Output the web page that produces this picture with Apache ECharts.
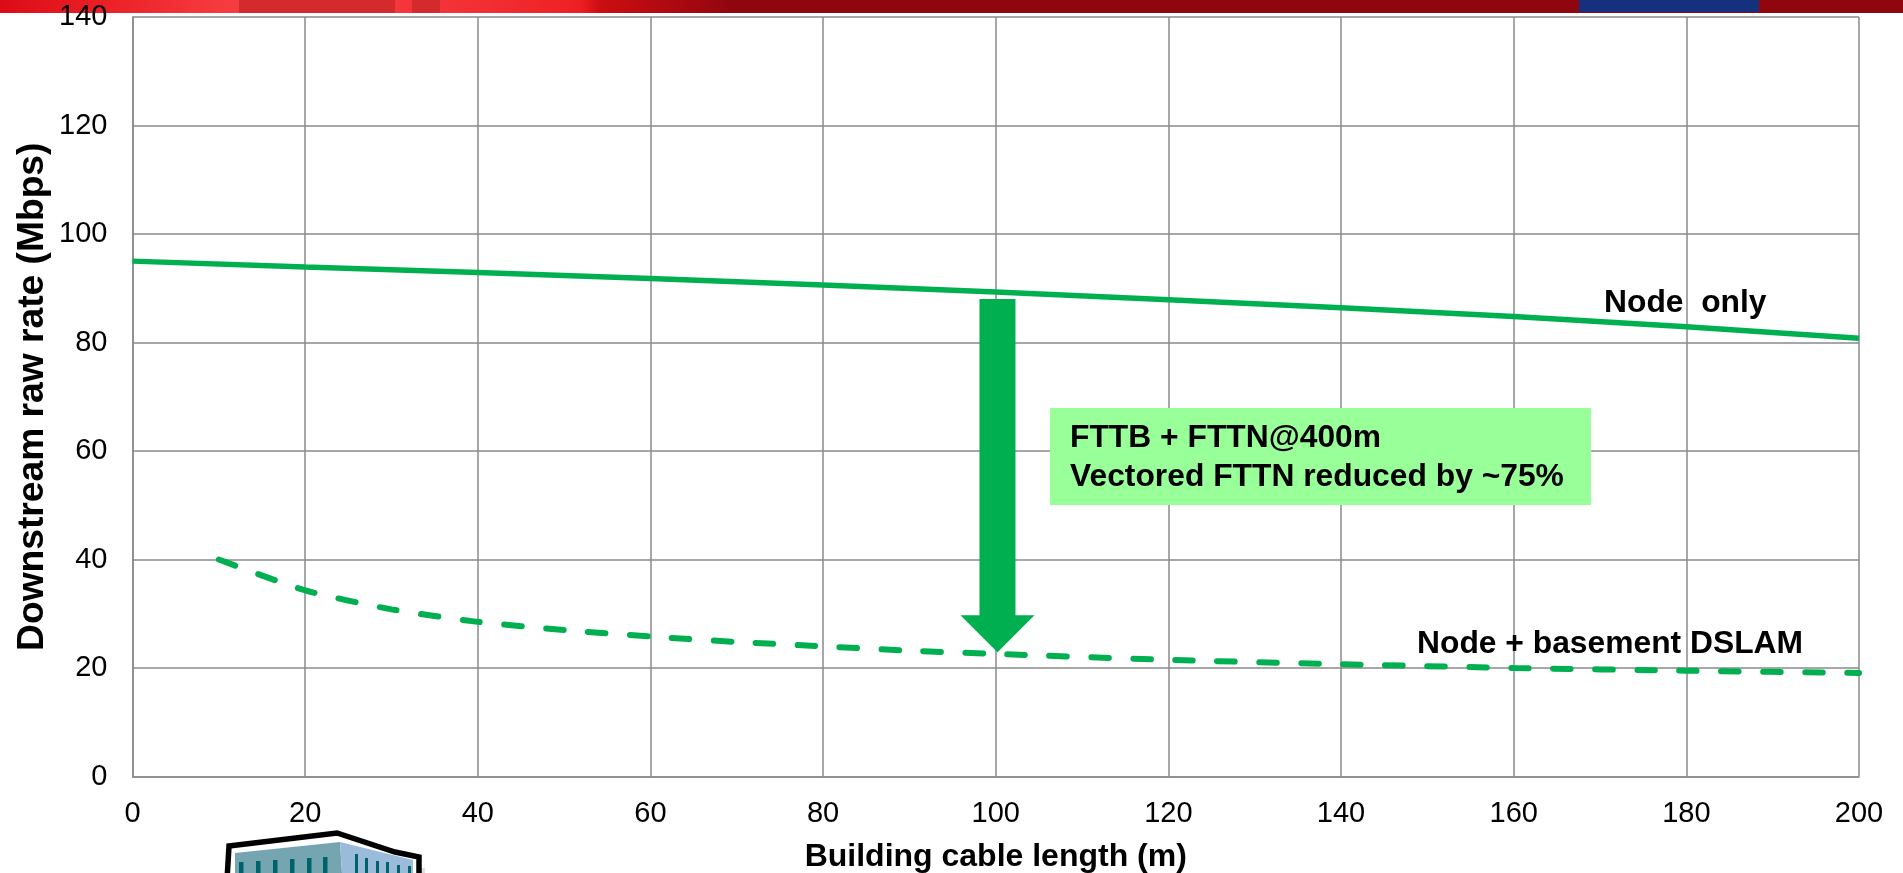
<!DOCTYPE html>
<html><head><meta charset="utf-8">
<style>html,body{margin:0;padding:0;background:#fff}#c{width:1903px;height:873px}</style>
<script src="https://cdn.jsdelivr.net/npm/echarts@6/dist/echarts.min.js"></script>
</head><body><div id="c"></div>
<script>
const nodeX = [0,20,40,60,80,100,120,140,160,180,200];
const nodeOnly = [95,93.9,92.9,91.8,90.6,89.3,87.9,86.4,84.8,82.9,80.8];
const baseX = [10,20,30,40,50,60,70,80,90,100,120,140,160,180,200];
const nodeBasement = [40,34.3,30.8,28.5,27,25.8,24.8,24,23.2,22.6,21.5,20.7,20,19.5,19.1];
const arrowX = [100.2];
const arrowFrom = [88];
const arrowTo = [22.9];
const GREEN = '#00B050', GRID = '#8a8a8a', FONT = '"Liberation Sans", Arial, sans-serif';
const chart = echarts.init(document.getElementById('c'), null, {renderer:'canvas'});
const txt = (x,y,t,size,extra) => ({type:'text',x,y,z:10,style:Object.assign({text:t,fill:'#000',font:'bold '+size+'px '+FONT,textVerticalAlign:'middle'},extra||{})});
const poly = (pts,fill,extra) => ({type:'polygon',z:1,shape:{points:pts},style:Object.assign({fill},extra||{})});
const win = [[239,862],[256,861],[273,860],[290,859],[307,858],[323,857]].map(p=>({type:'rect',z:1,shape:{x:p[0],y:p[1],width:4.5,height:20},style:{fill:'#00626b'}}));
const win2 = [[355,854],[365,858],[376,861],[386,862],[397,865],[408,866]].map(p=>({type:'rect',z:1,shape:{x:p[0],y:p[1],width:3,height:20},style:{fill:'#00626b'}}));
chart.setOption({
  animation:false,
  backgroundColor:'#fff',
  grid:{left:132.5,right:44,top:17,bottom:96.5,outerBoundsMode:'none'},
  xAxis:{type:'value',min:0,max:200,interval:20,
    name:'Building cable length (m)',nameLocation:'middle',nameGap:64.5,nameMoveOverlap:false,
    nameTextStyle:{fontFamily:FONT,fontWeight:'bold',fontSize:32,color:'#000'},
    axisLine:{show:true,lineStyle:{color:GRID,width:1.5}},axisTick:{show:false},
    axisLabel:{color:'#000',fontFamily:FONT,fontSize:29,margin:23},
    splitLine:{show:true,lineStyle:{color:GRID,width:1.5}}},
  yAxis:{type:'value',min:0,max:140,interval:20,
    name:'Downstream raw rate (Mbps)',nameLocation:'middle',nameGap:81,nameMoveOverlap:false,
    nameTextStyle:{fontFamily:FONT,fontWeight:'bold',fontSize:37.2,color:'#000'},
    axisLine:{show:true,lineStyle:{color:GRID,width:1.5}},axisTick:{show:false},
    axisLabel:{color:'#000',fontFamily:FONT,fontSize:29,margin:25},
    splitLine:{show:true,lineStyle:{color:GRID,width:1.5}}},
  series:[
    {type:'line',name:'Node only',data:nodeX.map((x,i)=>[x,nodeOnly[i]]),showSymbol:false,symbol:'none',z:5,clip:false,
      lineStyle:{color:GREEN,width:5.5}},
    {type:'line',name:'Node + basement DSLAM',data:baseX.map((x,i)=>[x,nodeBasement[i]]),showSymbol:false,symbol:'none',smooth:0.2,z:5,clip:false,
      lineStyle:{color:GREEN,width:6,type:[17.5,24.5],cap:'round'}},
    {type:'custom',name:'arrow',z:6,silent:true,clip:false,
      data:arrowX.map((x,i)=>[x,arrowFrom[i],arrowTo[i]]),
      encode:{x:0,y:[1,2]},
      renderItem:(params,api)=>{
        const a=api.coord([api.value(0),api.value(1)]), b=api.coord([api.value(0),api.value(2)]);
        const x=a[0], yh=b[1]-37;
        return {type:'polygon',shape:{points:[[x-18,a[1]],[x+18,a[1]],[x+18,yh],[x+37,yh],[x,b[1]],[x-37,yh],[x-18,yh]]},style:{fill:GREEN}};
      }}
  ],
  graphic:[
    {type:'rect',z:-1,shape:{x:0,y:0,width:1903,height:13},style:{fill:new echarts.graphic.LinearGradient(0,0,1,0,[
      {offset:0,color:'#dc0c16'},{offset:0.06,color:'#ec2228'},{offset:0.12,color:'#f63c40'},{offset:0.18,color:'#f63c40'},
      {offset:0.25,color:'#f23034'},{offset:0.305,color:'#ee1f24'},{offset:0.315,color:'#cc0e12'},{offset:0.36,color:'#a80810'},{offset:0.385,color:'#90060e'},{offset:1,color:'#90060e'}])}},
    {type:'rect',z:-1,shape:{x:239,y:0,width:156,height:13},style:{fill:'#d32b2d'}},
    {type:'rect',z:-1,shape:{x:412,y:0,width:28,height:13},style:{fill:'#d32b2d'}},
    {type:'rect',z:-1,shape:{x:1579,y:0,width:180,height:12},style:{fill:'#15317e'}},
    {type:'rect',z:8,shape:{x:1050,y:408,width:541,height:97},style:{fill:'#99FF99'}},
    txt(1070,438,'FTTB + FTTN@400m',31.8),
    txt(1070,477,'Vectored FTTN reduced by ~75%',31.8),
    txt(1604,303,'Node  only',31.8),
    txt(1417,644,'Node + basement DSLAM',31.8),
    {type:'rect',z:1,shape:{x:420,y:868,width:5,height:5},style:{fill:'#dddddd'}},
    poly([[227,880],[229,846],[337,833],[395,852],[419,857],[419,880]],'#fff',{stroke:'#000',lineWidth:5.5}),
    poly([[235,853],[340,842],[342,873],[235,873]],'#75a5b0'),
    poly([[340,842],[413,860],[413,873],[342,873]],'#9abbda'),
    ...win,...win2
  ]
});
</script></body></html>
